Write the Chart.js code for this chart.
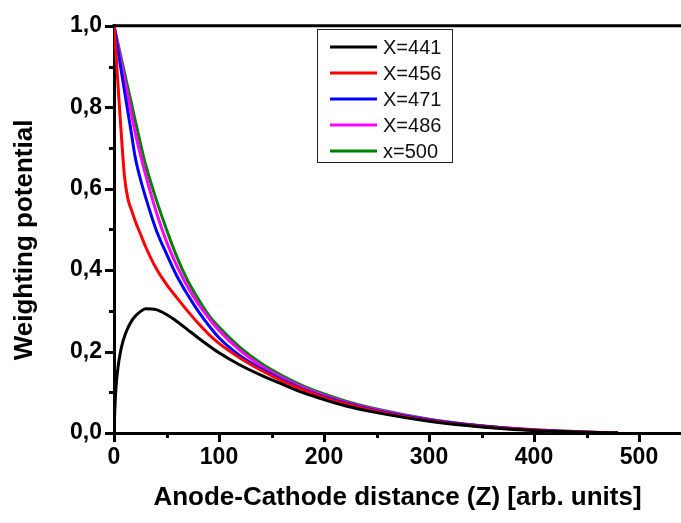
<!DOCTYPE html>
<html>
<head>
<meta charset="utf-8">
<script src="https://cdn.jsdelivr.net/npm/chart.js@4"></script>
<style>
  html, body { margin: 0; padding: 0; background: #fff; overflow: hidden; }
  canvas { display: block; }
</style>
</head>
<body>
<canvas id="c" width="681" height="523"></canvas>
<script>
// ---- data ----
const xs = [0, 1, 2, 4, 6, 8, 10, 13, 17, 20, 25, 30, 40, 50, 60, 70, 80, 90, 100, 120, 140, 160, 180, 200, 220, 250, 300, 350, 400, 450, 480];

const seriesLabels = ['X=441', 'X=456', 'X=471', 'X=486', 'x=500'];

const y441 = [0, 0.07, 0.115, 0.165, 0.197, 0.22, 0.237, 0.257, 0.276, 0.286, 0.298, 0.305, 0.303, 0.291, 0.274, 0.254, 0.234, 0.215, 0.197, 0.167, 0.142, 0.12, 0.099, 0.082, 0.067, 0.05, 0.029, 0.015, 0.006, 0.0015, 0];
const y456 = [1, 0.963, 0.926, 0.848, 0.77, 0.695, 0.63, 0.578, 0.545, 0.522, 0.49, 0.458, 0.405, 0.365, 0.332, 0.3, 0.27, 0.243, 0.22, 0.184, 0.154, 0.128, 0.106, 0.087, 0.072, 0.053, 0.03, 0.016, 0.007, 0.002, 0];
const y471 = [1, 0.984, 0.968, 0.936, 0.904, 0.872, 0.84, 0.792, 0.729, 0.68, 0.625, 0.58, 0.5, 0.44, 0.385, 0.34, 0.3, 0.265, 0.234, 0.19, 0.158, 0.131, 0.108, 0.089, 0.074, 0.055, 0.032, 0.017, 0.007, 0.002, 0];
const y486 = [1, 0.987, 0.974, 0.948, 0.922, 0.896, 0.87, 0.831, 0.779, 0.74, 0.685, 0.635, 0.545, 0.47, 0.41, 0.36, 0.318, 0.283, 0.252, 0.203, 0.165, 0.136, 0.112, 0.092, 0.076, 0.057, 0.033, 0.017, 0.008, 0.0022, 0];
const y500 = [1, 0.989, 0.977, 0.954, 0.931, 0.908, 0.885, 0.85, 0.805, 0.77, 0.713, 0.66, 0.575, 0.5, 0.432, 0.375, 0.33, 0.29, 0.26, 0.21, 0.171, 0.141, 0.116, 0.096, 0.079, 0.059, 0.034, 0.018, 0.008, 0.0025, 0];

const xMajorTicks = [0, 100, 200, 300, 400, 500];
const yMajorTicks = [0, 0.2, 0.4, 0.6, 0.8, 1.0];

const xTitle = 'Anode-Cathode distance (Z) [arb. units]';
const yTitle = 'Weighting potential';

const seriesValues = [y441, y456, y471, y486, y500];
const seriesColors = ['#000000', '#ff0000', '#0000ff', '#ff00ff', '#008000'];

const datasets = seriesValues.map((vals, i) => ({
  label: seriesLabels[i],
  data: vals.map((v, k) => ({ x: xs[k], y: v })),
  borderColor: seriesColors[i],
  backgroundColor: seriesColors[i],
  borderWidth: 3,
  pointRadius: 0,
  fill: false,
  cubicInterpolationMode: 'monotone'
}));

const FONT = "'Liberation Sans', Arial, sans-serif";

// axes decorations: top line, major/minor tick marks, y title
const frameTicks = {
  id: 'frameTicks',
  afterDraw(chart) {
    const { ctx, chartArea: a, scales: { x, y } } = chart;
    ctx.save();
    ctx.strokeStyle = '#000';
    ctx.lineWidth = 3;
    ctx.lineCap = 'butt';
    // top line
    ctx.beginPath();
    ctx.moveTo(a.left - 1.5, a.top);
    ctx.lineTo(chart.width, a.top);
    ctx.stroke();
    // x ticks
    for (let v = 0; v <= x.max + 1e-9; v += 50) {
      const px = Math.round(x.getPixelForValue(v)) + 0.5;
      const major = xMajorTicks.includes(v);
      ctx.beginPath();
      ctx.moveTo(px, a.bottom);
      ctx.lineTo(px, a.bottom + (major ? 9 : 5));
      ctx.stroke();
    }
    // y ticks
    for (let i = 0; i <= 10; i++) {
      const v = i / 10;
      const py = Math.round(y.getPixelForValue(v)) + 0.5;
      const major = i % 2 === 0;
      ctx.beginPath();
      ctx.moveTo(a.left, py);
      ctx.lineTo(a.left - (major ? 9 : 5), py);
      ctx.stroke();
    }
    // y axis title
    ctx.translate(25, 240);
    ctx.rotate(-Math.PI / 2);
    ctx.fillStyle = '#000';
    ctx.font = 'bold 26px ' + FONT;
    ctx.textAlign = 'center';
    ctx.textBaseline = 'middle';
    ctx.fillText(yTitle, 0, 0);
    ctx.restore();
  }
};

// legend box inside the plot
const boxLegend = {
  id: 'boxLegend',
  afterDraw(chart) {
    const { ctx } = chart;
    const bx = 317, by = 29, bw = 135, bh = 133;
    ctx.save();
    ctx.fillStyle = '#fff';
    ctx.fillRect(bx, by, bw, bh);
    ctx.strokeStyle = '#222';
    ctx.lineWidth = 1;
    ctx.strokeRect(bx + 0.5, by + 0.5, bw, bh);
    ctx.font = '20px ' + FONT;
    ctx.textBaseline = 'middle';
    ctx.textAlign = 'left';
    chart.data.datasets.forEach((ds, i) => {
      const cy = by + 18 + i * 26;
      ctx.strokeStyle = ds.borderColor;
      ctx.lineWidth = 3;
      ctx.beginPath();
      ctx.moveTo(bx + 13, cy);
      ctx.lineTo(bx + 60, cy);
      ctx.stroke();
      ctx.fillStyle = '#111';
      ctx.fillText(ds.label, bx + 66, cy + 1);
    });
    ctx.restore();
  }
};

new Chart(document.getElementById('c'), {
  type: 'line',
  data: { datasets },
  plugins: [frameTicks, boxLegend],
  options: {
    responsive: false,
    animation: false,
    layout: { padding: { top: 15, right: 0, left: 0, bottom: 0 } },
    plugins: { legend: { display: false }, tooltip: { enabled: false } },
    scales: {
      x: {
        type: 'linear',
        min: 0,
        max: 540,
        afterFit(s) { s.height = 90; },
        afterBuildTicks(s) { s.ticks = xMajorTicks.map(v => ({ value: v })); },
        ticks: {
          font: { family: FONT, size: 23, weight: 'bold' },
          color: '#000',
          padding: 11,
          maxRotation: 0,
          callback: v => String(v)
        },
        grid: { display: false, drawTicks: false, tickLength: 0 },
        border: { display: true, width: 3, color: '#000' },
        title: {
          display: true,
          text: xTitle,
          font: { family: FONT, size: 26, weight: 'bold' },
          color: '#000',
          padding: { top: 0, bottom: 10 }
        }
      },
      y: {
        type: 'linear',
        min: 0,
        max: 1,
        afterFit(s) { s.width = 114; },
        afterBuildTicks(s) { s.ticks = yMajorTicks.map(v => ({ value: v })); },
        ticks: {
          font: { family: FONT, size: 23, weight: 'bold' },
          color: '#000',
          padding: 12,
          callback: v => v.toFixed(1).replace('.', ',')
        },
        grid: { display: false, drawTicks: false, tickLength: 0 },
        border: { display: true, width: 3, color: '#000' },
        title: { display: false }
      }
    }
  }
});
</script>
</body>
</html>
